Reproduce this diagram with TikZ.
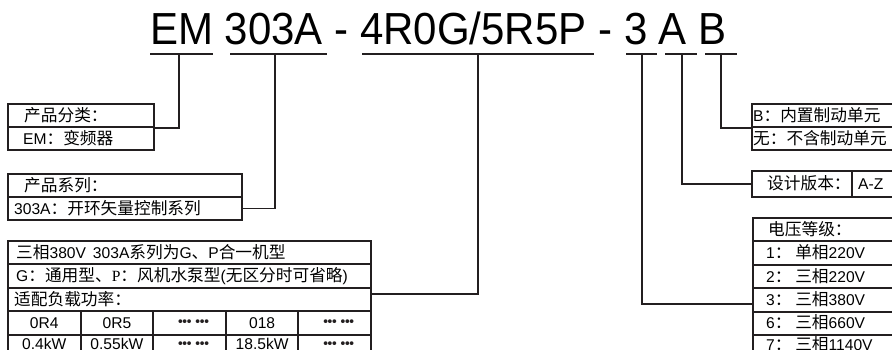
\documentclass[tikz,border=0pt]{standalone}
\usepackage{fontspec}
\setmainfont{Liberation Sans}
\newfontfamily\cjk[Scale=1.07]{Noto Sans CJK SC}
\newfontfamily\dotf[LetterSpace=-25]{DejaVu Sans}
\newfontfamily\serifP{Liberation Serif}
\definecolor{ink}{HTML}{231F20}
\tikzset{
  cell/.style={draw=ink, line width=2pt, inner sep=0pt, anchor=north west, minimum height=23pt},
  txt/.style={inner sep=0pt, anchor=west, text height=11.2pt, text depth=0pt, font=\fontsize{15.6}{19}\selectfont, text=black},
  ctr/.style={txt, anchor=center},
  dots/.style={inner sep=0pt, anchor=center, font=\dotf\fontsize{13}{15}\selectfont, text=ink},
  conn/.style={draw=ink, line width=1.8pt},
  uline/.style={draw=ink, line width=2pt},
}
\begin{document}
\begin{tikzpicture}[x=1pt,y=-1pt]
\useasboundingbox (0,0) rectangle (892,350);
% title
\node[inner sep=0pt, anchor=base west, font=\fontsize{42}{50}\selectfont] (title) at (150,45) {\scalebox{1}[1.07]{EM 303A - 4R0G/5R5P - 3 A B}};
\draw[uline] (150,54) -- (213,54);
\draw[uline] (230,54) -- (327,54);
\draw[uline] (362,54) -- (594,54);
\draw[uline] (626,54) -- (657,54);
\draw[uline] (665,54) -- (697,54);
\draw[uline] (705,54) -- (737,54);
\coordinate (uEM) at (179,54);
\coordinate (u303) at (275,54);
\coordinate (u4R0) at (478,54);
\coordinate (u3) at (642,54);
\coordinate (uA) at (682,54);
\coordinate (uB) at (721,54);
% box 1
\node[cell, minimum width=146pt] (c1a) at (7,103) {};
\node[cell, minimum width=146pt] (c1b) at (7,126) {};
\node[txt] at ([xshift=17pt]c1a.west) {\cjk 产品分类：};
\node[txt] at ([xshift=16pt]c1b.west) {EM{\cjk ：变频器}};
% box 2
\node[cell, minimum width=234pt] (c2a) at (7,173) {};
\node[cell, minimum width=234pt] (c2b) at (7,196) {};
\node[txt] at ([xshift=17pt]c2a.west) {\cjk 产品系列：};
\node[txt] at ([xshift=7pt]c2b.west) {303A{\cjk ：开环矢量控制系列}};
% box 3
\node[cell, minimum width=363pt, minimum height=23.4pt] (c3a) at (7,240) {};
\node[cell, minimum width=363pt, minimum height=23.4pt] (c3b) at (7,263.4) {};
\node[cell, minimum width=363pt, minimum height=23.4pt] (c3c) at (7,286.8) {};
\node[txt] at ([xshift=9pt]c3a.west) {{\cjk 三相}380V\hspace{7pt}303A{\cjk 系列为}G{\cjk 、}P{\cjk 合一机型}};
\node[txt] at ([xshift=9pt]c3b.west) {G{\cjk ：通用型、}{\serifP P}{\cjk ：风机水泵型}({\cjk 无区分时可省略})};
\node[txt] at ([xshift=7pt]c3c.west) {\cjk 适配负载功率：};
\foreach \i in {0,...,4} {
  \node[cell, minimum width=72.6pt, minimum height=23.4pt] (t\i) at (7+72.6*\i,310.2) {};
  \node[cell, minimum width=72.6pt, minimum height=23.4pt] (k\i) at (7+72.6*\i,333.6) {};
}
\node[ctr] at (t0) {0R4};
\node[ctr] at (t1) {0R5};
\node[dots] at ([xshift=4pt]t2.center) {••• •••};
\node[ctr] at (t3) {018};
\node[dots] at ([xshift=4pt]t4.center) {••• •••};
\node[ctr] at ([yshift=2pt]k0.center) {0.4kW};
\node[ctr] at ([yshift=2pt]k1.center) {0.55kW};
\node[dots] at ([xshift=4pt,yshift=1pt]k2.center) {••• •••};
\node[ctr] at ([yshift=2pt]k3.center) {18.5kW};
\node[dots] at ([xshift=4pt,yshift=1pt]k4.center) {••• •••};
% B box
\node[cell, minimum width=160pt] (bA) at (751,103) {};
\node[cell, minimum width=160pt] (bB) at (751,126) {};
\node[txt] at ([xshift=2pt]bA.west) {B{\cjk ：内置制动单元}};
\node[txt] at ([xshift=2pt]bB.west) {\cjk 无：不含制动单元};
% version box
\node[cell, minimum width=100pt, minimum height=26pt] (vA) at (751,170) {};
\node[cell, minimum width=60pt, minimum height=26pt] (vB) at (851,170) {};
\node[txt] at ([xshift=16pt]vA.west) {\cjk 设计版本：};
\node[txt] at ([xshift=7pt]vB.west) {A-Z};
% voltage box
\foreach \i in {0,...,5} {
  \node[cell, minimum width=160pt, minimum height=23.4pt] (v\i) at (752,217+23.4*\i) {};
}
\node[txt] at ([xshift=16pt]v0.west) {\cjk 电压等级：};
\node[txt] at ([xshift=14pt]v1.west) {1{\cjk ： 单相}220V};
\node[txt] at ([xshift=14pt]v2.west) {2{\cjk ： 三相}220V};
\node[txt] at ([xshift=14pt]v3.west) {3{\cjk ： 三相}380V};
\node[txt] at ([xshift=14pt]v4.west) {6{\cjk ： 三相}660V};
\node[txt] at ([xshift=14pt,yshift=2pt]v5.west) {7{\cjk ： 三相}1140V};
% connectors
\draw[conn] (uEM) |- (c1a.south east);
\draw[conn] (u303) |- (c2b.east);
\draw[conn] (u4R0) |- ([yshift=5.5pt]c3c.east);
\draw[conn] (u3) |- ([yshift=-4pt]v3.west);
\draw[conn] (uA) |- (vA.west);
\draw[conn] (uB) |- (bA.south west);
\end{tikzpicture}
\end{document}
